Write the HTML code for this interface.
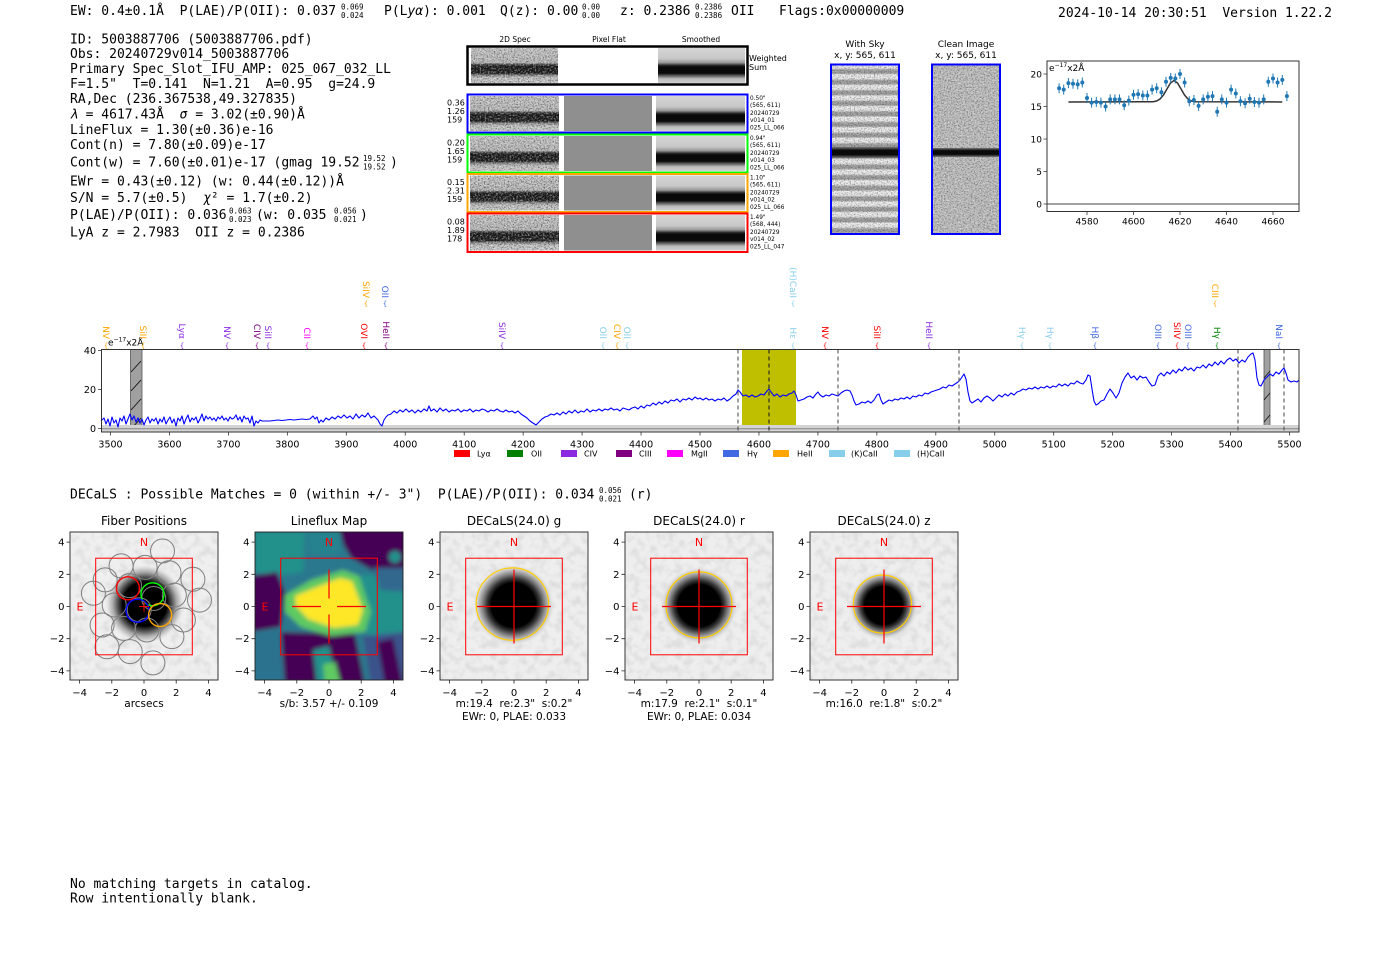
<!DOCTYPE html>
<html><head><meta charset="utf-8"><style>
html,body{margin:0;padding:0;background:#fff;}
svg{display:block;}
.m{font-family:"DejaVu Sans Mono","Liberation Mono",monospace;font-size:13px;fill:#000;}
.ms{font-family:"DejaVu Sans Mono","Liberation Mono",monospace;font-size:7.5px;fill:#000;}
.s{font-family:"DejaVu Sans","Liberation Sans",sans-serif;fill:#000;}
.r{font-family:"DejaVu Sans","Liberation Sans",sans-serif;fill:#ff0000;font-size:11px;}
</style></head><body>
<svg width="1400" height="953" viewBox="0 0 1400 953" xmlns="http://www.w3.org/2000/svg">
<defs>
<filter id="nzd" x="0" y="0" width="1" height="1">
<feTurbulence type="fractalNoise" baseFrequency="0.7" numOctaves="2" seed="5"/>
<feColorMatrix type="matrix" values="0 0 0 0 0  0 0 0 0 0  0 0 0 0 0  -2.4 0 0 0 1.35"/>
</filter>
<filter id="nzl" x="0" y="0" width="1" height="1">
<feTurbulence type="fractalNoise" baseFrequency="0.6" numOctaves="2" seed="11"/>
<feColorMatrix type="matrix" values="0 0 0 0 1  0 0 0 0 1  0 0 0 0 1  2.4 0 0 0 -1.05"/>
</filter>
<filter id="nzs" x="0" y="0" width="1" height="1">
<feTurbulence type="fractalNoise" baseFrequency="0.12" numOctaves="2" seed="7"/>
<feColorMatrix type="matrix" values="0 0 0 0 0  0 0 0 0 0  0 0 0 0 0  -1.2 0 0 0 0.7"/>
</filter>
<filter id="blur" x="-0.1" y="-0.1" width="1.2" height="1.2"><feGaussianBlur stdDeviation="2.2"/></filter>
<linearGradient id="g2d" x1="0" y1="0" x2="0" y2="1">
<stop offset="0" stop-color="#c6c6c6"/><stop offset="0.42" stop-color="#b6b6b6"/><stop offset="0.47" stop-color="#474747"/><stop offset="0.52" stop-color="#171717"/><stop offset="0.72" stop-color="#1c1c1c"/><stop offset="0.78" stop-color="#8a8a8a"/><stop offset="0.85" stop-color="#c2c2c2"/><stop offset="1" stop-color="#c9c9c9"/>
</linearGradient>
<linearGradient id="gsm" x1="0" y1="0" x2="0" y2="1">
<stop offset="0" stop-color="#d6d6d6"/><stop offset="0.3" stop-color="#c8c8c8"/><stop offset="0.42" stop-color="#979797"/><stop offset="0.5" stop-color="#222"/><stop offset="0.55" stop-color="#080808"/><stop offset="0.72" stop-color="#0a0a0a"/><stop offset="0.8" stop-color="#666"/><stop offset="0.88" stop-color="#bcbcbc"/><stop offset="1" stop-color="#cfcfcf"/>
</linearGradient>
<linearGradient id="gband" x1="0" y1="0" x2="0" y2="1">
<stop offset="0" stop-color="#777"/><stop offset="0.3" stop-color="#0a0a0a"/><stop offset="0.7" stop-color="#0a0a0a"/><stop offset="1" stop-color="#777"/>
</linearGradient>
<linearGradient id="gstr" x1="0" y1="0" x2="0" y2="1">
<stop offset="0" stop-color="#f2f2f2"/><stop offset="0.4" stop-color="#e6e6e6"/><stop offset="0.55" stop-color="#a8a8a8"/><stop offset="0.85" stop-color="#a0a0a0"/><stop offset="1" stop-color="#e0e0e0"/>
</linearGradient>
<pattern id="sky" x="0" y="64" width="68" height="10.6" patternUnits="userSpaceOnUse">
<rect width="68" height="10.6" fill="url(#gstr)"/>
</pattern>
<radialGradient id="bf"><stop offset="0" stop-color="#000"/><stop offset="0.55" stop-color="#000"/><stop offset="0.68" stop-color="#555"/><stop offset="0.8" stop-color="#aaa"/><stop offset="0.92" stop-color="#e0e0e0"/><stop offset="1" stop-color="#eeeeee" stop-opacity="0"/></radialGradient>
<radialGradient id="bd"><stop offset="0" stop-color="#000"/><stop offset="0.54" stop-color="#000"/><stop offset="0.64" stop-color="#333"/><stop offset="0.76" stop-color="#888"/><stop offset="0.88" stop-color="#cfcfcf"/><stop offset="1" stop-color="#ececec" stop-opacity="0"/></radialGradient>
<clipPath id="pb"><rect x="0" y="0" width="148" height="148"/></clipPath>
</defs>

<!-- ===== HEADER ===== -->
<text class="m" x="70" y="15">EW: 0.4±0.1Å&#160; P(LAE)/P(OII): 0.037</text>
<text class="ms" x="341" y="9.5">0.069</text><text class="ms" x="341" y="18">0.024</text>
<text class="m" x="384" y="15">P(L<tspan font-style="italic">yα</tspan>): 0.001</text>
<text class="m" x="500" y="15">Q(z): 0.00</text>
<text class="ms" x="582" y="9.5">0.00</text><text class="ms" x="582" y="18">0.00</text>
<text class="m" x="620" y="15">z: 0.2386</text>
<text class="ms" x="695" y="9.5" font-size="6.5">0.2386</text><text class="ms" x="695" y="18" font-size="6.5">0.2386</text>
<text class="m" x="731" y="15">OII</text>
<text class="m" x="779" y="15">Flags:0x00000009</text>
<text class="m" x="1058" y="17">2024-10-14 20:30:51&#160; Version 1.22.2</text>

<!-- ===== INFO BLOCK ===== -->
<text class="m" x="70" y="43.5">ID: 5003887706 (5003887706.pdf)</text>
<text class="m" x="70" y="58">Obs: 20240729v014_5003887706</text>
<text class="m" x="70" y="73">Primary Spec_Slot_IFU_AMP: 025_067_032_LL</text>
<text class="m" x="70" y="88">F=1.5"&#160; T=0.141&#160; N=1.21&#160; A=0.95&#160; g=24.9</text>
<text class="m" x="70" y="103">RA,Dec (236.367538,49.327835)</text>
<text class="m" x="70" y="118.5"><tspan font-style="italic">λ</tspan> = 4617.43Å&#160; <tspan font-style="italic">σ</tspan> = 3.02(±0.90)Å</text>
<text class="m" x="70" y="134">LineFlux = 1.30(±0.36)e-16</text>
<text class="m" x="70" y="149">Cont(n) = 7.80(±0.09)e-17</text>
<text class="m" x="70" y="166.5">Cont(w) = 7.60(±0.01)e-17 (gmag 19.52</text>
<text class="ms" x="363" y="161">19.52</text><text class="ms" x="363" y="169.5">19.52</text>
<text class="m" x="390" y="166.5">)</text>
<text class="m" x="70" y="185.5">EWr = 0.43(±0.12) (w: 0.44(±0.12))Å</text>
<text class="m" x="70" y="202">S/N = 5.7(±0.5)&#160; <tspan font-style="italic">χ</tspan>² = 1.7(±0.2)</text>
<text class="m" x="70" y="219">P(LAE)/P(OII): 0.036</text>
<text class="ms" x="229" y="213.5">0.063</text><text class="ms" x="229" y="222">0.023</text>
<text class="m" x="256" y="219">(w: 0.035</text>
<text class="ms" x="334" y="213.5">0.056</text><text class="ms" x="334" y="222">0.021</text>
<text class="m" x="360" y="219">)</text>
<text class="m" x="70" y="236.5">LyA z = 2.7983&#160; OII z = 0.2386</text>

<!-- ===== 2D SPEC PANELS ===== -->
<g class="s" font-size="7.5" text-anchor="middle">
<text x="515" y="42">2D Spec</text><text x="609" y="42">Pixel Flat</text><text x="701" y="42">Smoothed</text>
</g>
<rect x="471" y="48" width="87" height="35" fill="url(#g2d)"/>
<rect x="471" y="48" width="87" height="35" filter="url(#nzd)" opacity="0.55"/>
<rect x="471" y="48" width="87" height="35" filter="url(#nzl)" opacity="0.55"/>
<rect x="658" y="48" width="87" height="35" fill="url(#gsm)"/>
<rect x="467.5" y="46.5" width="280" height="38" fill="none" stroke="#000" stroke-width="2.5"/>
<text class="s" font-size="8" x="749" y="61">Weighted</text>
<text class="s" font-size="8" x="749" y="70">Sum</text>

<g>
<rect x="470" y="96" width="89" height="35" fill="url(#g2d)"/>
<rect x="470" y="96" width="89" height="35" filter="url(#nzd)" opacity="0.55"/>
<rect x="470" y="96" width="89" height="35" filter="url(#nzl)" opacity="0.55"/>
<rect x="564" y="96" width="88" height="35" fill="#8f8f8f"/>
<rect x="656" y="96" width="89" height="35" fill="url(#gsm)"/>
<rect x="467.5" y="94.5" width="280" height="38" fill="none" stroke="#0000ff" stroke-width="2"/>

<rect x="470" y="136" width="89" height="35" fill="url(#g2d)"/>
<rect x="470" y="136" width="89" height="35" filter="url(#nzd)" opacity="0.55"/>
<rect x="470" y="136" width="89" height="35" filter="url(#nzl)" opacity="0.55"/>
<rect x="564" y="136" width="88" height="35" fill="#8f8f8f"/>
<rect x="656" y="136" width="89" height="35" fill="url(#gsm)"/>
<rect x="467.5" y="134.5" width="280" height="38" fill="none" stroke="#00ff00" stroke-width="2"/>

<rect x="470" y="175.5" width="89" height="35" fill="url(#g2d)"/>
<rect x="470" y="175.5" width="89" height="35" filter="url(#nzd)" opacity="0.6"/>
<rect x="470" y="175.5" width="89" height="35" filter="url(#nzl)" opacity="0.6"/>
<rect x="564" y="175.5" width="88" height="35" fill="#8f8f8f"/>
<rect x="656" y="175.5" width="89" height="35" fill="url(#gsm)"/>
<rect x="467.5" y="174" width="280" height="38" fill="none" stroke="#ffa500" stroke-width="2"/>

<rect x="470" y="215" width="89" height="35.5" fill="url(#g2d)"/>
<rect x="470" y="215" width="89" height="35.5" filter="url(#nzd)" opacity="0.6"/>
<rect x="470" y="215" width="89" height="35.5" filter="url(#nzl)" opacity="0.6"/>
<rect x="564" y="215" width="88" height="35.5" fill="#8f8f8f"/>
<rect x="656" y="215" width="89" height="35.5" fill="url(#gsm)"/>
<rect x="467.5" y="213.5" width="280" height="38.5" fill="none" stroke="#ff0000" stroke-width="2"/>
</g>
<g class="s" font-size="8">
<text x="447" y="105.5">0.36</text><text x="447" y="114">1.26</text><text x="447" y="122.5">159</text>
<text x="447" y="145.5">0.20</text><text x="447" y="154">1.65</text><text x="447" y="162.5">159</text>
<text x="447" y="185">0.15</text><text x="447" y="193.5">2.31</text><text x="447" y="202">159</text>
<text x="447" y="224.5">0.08</text><text x="447" y="233">1.89</text><text x="447" y="241.5">178</text>
</g>
<g class="s" font-size="5.8" fill="#222">
<text x="750" y="100">0.50"</text><text x="750" y="107">(565, 611)</text><text x="750" y="115">20240729</text><text x="750" y="122">v014_01</text><text x="750" y="129.5">025_LL_066</text>
<text x="750" y="140">0.94"</text><text x="750" y="147">(565, 611)</text><text x="750" y="155">20240729</text><text x="750" y="162">v014_03</text><text x="750" y="169.5">025_LL_066</text>
<text x="750" y="179.5">1.10"</text><text x="750" y="186.5">(565, 611)</text><text x="750" y="194.5">20240729</text><text x="750" y="201.5">v014_02</text><text x="750" y="209">025_LL_066</text>
<text x="750" y="219">1.49"</text><text x="750" y="226">(568, 444)</text><text x="750" y="234">20240729</text><text x="750" y="241">v014_02</text><text x="750" y="248.5">025_LL_047</text>
</g>

<!-- ===== WITH SKY / CLEAN ===== -->
<g class="s" font-size="9" text-anchor="middle">
<text x="865" y="47">With Sky</text><text x="865" y="58">x, y: 565, 611</text>
<text x="966" y="47">Clean Image</text><text x="966" y="58">x, y: 565, 611</text>
</g>
<rect x="832" y="65" width="66" height="168" fill="url(#sky)"/>
<rect x="832" y="65" width="66" height="168" filter="url(#nzd)" opacity="0.4"/>
<rect x="832" y="147" width="66" height="11" fill="url(#gband)"/>
<rect x="831" y="64.5" width="68" height="169.5" fill="none" stroke="#0000ff" stroke-width="2"/>
<rect x="933" y="65" width="66" height="168" fill="#bdbdbd"/>
<rect x="933" y="65" width="66" height="168" filter="url(#nzd)" opacity="0.45"/>
<rect x="933" y="65" width="66" height="168" filter="url(#nzl)" opacity="0.45"/>
<rect x="933" y="148" width="66" height="9" fill="url(#gband)"/>
<rect x="932" y="64.5" width="68" height="169.5" fill="none" stroke="#0000ff" stroke-width="2"/>

<!-- ===== ZOOM LINE PLOT (top right) ===== -->
<g>
<line x1="1047" y1="204" x2="1299" y2="204" stroke="#444" stroke-width="1"/>
<polyline fill="none" stroke="#333" stroke-width="1.5" points="1068.4,101.95 1153,101.7 1156.5,101 1160,99.05 1163.5,95 1167,88.9 1170.5,83 1174,80.5 1177.5,83 1181,88.9 1184.5,95 1188,99.05 1191.5,101 1195,101.7 1282.3,101.95"/>
<g stroke="#1f77b4" stroke-width="1" fill="#1f77b4">
<path d="M1059.1,83.3V93.3M1063.7,84.6V94.6M1068.4,78.1V88.1M1073,78.75V88.75M1077.7,79.4V89.4M1082.3,77.45V87.45M1087,93.05V103.05M1091.6,97.6V107.6M1096.3,96.95V106.95M1100.9,97.6V107.6M1105.6,101.5V111.5M1110.2,94.35V104.35M1114.9,94.35V104.35M1119.5,94.35V104.35M1124.2,100.2V110.2M1128.8,95.65V105.65M1133.5,89.8V99.8M1138.1,89.15V99.15M1142.8,90.45V100.45M1147.4,90.45V100.45M1152.1,84.6V94.6M1156.7,83.3V93.3M1161.4,87.2V97.2M1166,76.8V86.8M1170.7,72.9V82.9M1175.3,73.55V83.55M1180,69V79M1184.6,77.45V87.45M1189.3,96.3V106.3M1193.9,95V105M1198.6,100.85V110.85M1203.2,94.35V104.35M1207.9,91.75V101.75M1212.5,91.1V101.1M1217.2,106.7V116.7M1221.8,94.35V104.35M1226.5,97.6V107.6M1231.1,84.6V94.6M1235.8,88.5V98.5M1240.4,96.3V106.3M1245.1,98.25V108.25M1249.7,93.7V103.7M1254.4,96.95V106.95M1259,97.6V107.6M1263.7,94.35V104.35M1268.3,76.8V86.8M1273,73.55V83.55M1277.6,77.45V87.45M1282.3,74.85V84.85M1286.9,91.1V101.1"/>
<g stroke="none">
<circle cx="1059.1" cy="88.3" r="2"/><circle cx="1063.7" cy="89.6" r="2"/><circle cx="1068.4" cy="83.1" r="2"/><circle cx="1073" cy="83.75" r="2"/><circle cx="1077.7" cy="84.4" r="2"/><circle cx="1082.3" cy="82.45" r="2"/><circle cx="1087" cy="98.05" r="2"/><circle cx="1091.6" cy="102.6" r="2"/><circle cx="1096.3" cy="101.95" r="2"/><circle cx="1100.9" cy="102.6" r="2"/><circle cx="1105.6" cy="106.5" r="2"/><circle cx="1110.2" cy="99.35" r="2"/><circle cx="1114.9" cy="99.35" r="2"/><circle cx="1119.5" cy="99.35" r="2"/><circle cx="1124.2" cy="105.2" r="2"/><circle cx="1128.8" cy="100.65" r="2"/><circle cx="1133.5" cy="94.8" r="2"/><circle cx="1138.1" cy="94.15" r="2"/><circle cx="1142.8" cy="95.45" r="2"/><circle cx="1147.4" cy="95.45" r="2"/><circle cx="1152.1" cy="89.6" r="2"/><circle cx="1156.7" cy="88.3" r="2"/><circle cx="1161.4" cy="92.2" r="2"/><circle cx="1166" cy="81.8" r="2"/><circle cx="1170.7" cy="77.9" r="2"/><circle cx="1175.3" cy="78.55" r="2"/><circle cx="1180" cy="74" r="2"/><circle cx="1184.6" cy="82.45" r="2"/><circle cx="1189.3" cy="101.3" r="2"/><circle cx="1193.9" cy="100" r="2"/><circle cx="1198.6" cy="105.85" r="2"/><circle cx="1203.2" cy="99.35" r="2"/><circle cx="1207.9" cy="96.75" r="2"/><circle cx="1212.5" cy="96.1" r="2"/><circle cx="1217.2" cy="111.7" r="2"/><circle cx="1221.8" cy="99.35" r="2"/><circle cx="1226.5" cy="102.6" r="2"/><circle cx="1231.1" cy="89.6" r="2"/><circle cx="1235.8" cy="93.5" r="2"/><circle cx="1240.4" cy="101.3" r="2"/><circle cx="1245.1" cy="103.25" r="2"/><circle cx="1249.7" cy="98.7" r="2"/><circle cx="1254.4" cy="101.95" r="2"/><circle cx="1259" cy="102.6" r="2"/><circle cx="1263.7" cy="99.35" r="2"/><circle cx="1268.3" cy="81.8" r="2"/><circle cx="1273" cy="78.55" r="2"/><circle cx="1277.6" cy="82.45" r="2"/><circle cx="1282.3" cy="79.85" r="2"/><circle cx="1286.9" cy="96.1" r="2"/>
</g></g>
<rect x="1047" y="61" width="252" height="150.5" fill="none" stroke="#333" stroke-width="1"/>
<path d="M1043.5,204H1047M1043.5,171.5H1047M1043.5,139H1047M1043.5,106.5H1047M1043.5,74H1047M1087,211.5V215M1133.5,211.5V215M1180,211.5V215M1226.5,211.5V215M1273,211.5V215" stroke="#333" stroke-width="0.8"/>
<g class="s" font-size="9" text-anchor="end">
<text x="1042" y="207.5">0</text><text x="1042" y="175">5</text><text x="1042" y="142.5">10</text><text x="1042" y="110">15</text><text x="1042" y="77.5">20</text>
</g>
<g class="s" font-size="9" text-anchor="middle">
<text x="1087" y="224.5">4580</text><text x="1133.5" y="224.5">4600</text><text x="1180" y="224.5">4620</text><text x="1226.5" y="224.5">4640</text><text x="1273" y="224.5">4660</text>
</g>
<text class="s" font-size="9" x="1049" y="71">e<tspan font-size="6" dy="-4">−17</tspan><tspan dy="4">x2Å</tspan></text>
</g>

<!-- ===== MAIN SPECTRUM ===== -->
<rect x="742" y="349.5" width="54" height="82.5" fill="#bfbf00"/>
<rect x="130.5" y="349.5" width="11.5" height="82.5" fill="#a0a0a0" stroke="#555" stroke-width="0.8"/>
<path d="M131,372L141,361M131,391L141,380M131,410L141,399M131,429L141,418" stroke="#111" stroke-width="0.9"/>
<rect x="1264" y="349.5" width="6" height="82.5" fill="#a0a0a0" stroke="#555" stroke-width="0.8"/>
<path d="M1264,378L1270,371M1264,400L1270,393M1264,422L1270,415" stroke="#111" stroke-width="0.8"/>
<rect x="101.5" y="425" width="1197.5" height="6.5" fill="#d4d4d4"/>
<line x1="101.5" y1="428.7" x2="1299" y2="428.7" stroke="#999" stroke-width="1.4"/>
<polyline fill="none" stroke="#0000ff" stroke-width="1.1" stroke-linejoin="round" points="101,421 104,418 106,424 108,419 110,426 112,417 114,423 116,420 118,427 120,418 122,421 124,416 126,424 128,419 130,414 132,420 134,416 136,422 138,418 140,423 142,419 144,425 146,420 148,417 150,423 152,419 154,421 156,418 158,424 160,419 162,422 164,417 166,424 168,420 170,417 172,423 174,419 176,426 178,418 180,421 182,416 184,424 186,419 188,415 190,422 192,418 194,420 196,417 198,423 200,419 202,414 204,421 206,416 208,419 210,417 212,420 214,418 216,421 218,417 220,419 222,416 224,420 226,418 228,421 230,417 232,419 234,418 236,415 238,420 240,417 242,422 244,416 246,419 248,418 250,423 252,416 254,426 256,421 258,423 260,420 262,421 266,421 270,421 274,420.5 278,420 282,420.5 286,420 290,419.5 294,420 298,419.5 302,419 306,419.5 310,419 313,416 315,419 317,417 319,423 321,420 323,422 326,418 329,420 332,417 335,419 338,416 341,418 344,415 347,418 350,416 353,419 356,414 359,418 362,415 365,417 368,413 371,418 374,416 376,418 378,420 380,424 382,426 384,420 386,417 388,415 391,414 394,411 397,413 400,410 403,412 406,409 409,412 412,410 415,413 418,410 421,412 424,409 427,411 429,406 431,411 434,409 437,412 440,408 443,411 446,409 449,412 452,410 455,411 458,409 461,412 464,410 467,411 470,409 473,412 476,410 479,411 482,409 485,410 488,412 491,410 494,411 497,409 500,411 503,412 506,410 509,412 512,411 515,413 518,411 521,414 524,416 527,418 530,421 533,423 536,425 539,422 542,419 545,417 548,416 551,414 554,415 557,413 560,415 563,412 566,414 569,411 572,413 575,410 578,413 581,411 584,412 587,409 590,412 593,410 596,411 599,409 602,411 605,409 608,410 611,408 614,410 617,409 620,411 623,408 626,409 629,410 632,408 635,407 638,409 641,406 644,408 647,405 650,406 653,403 656,405 659,402 662,404 665,401 668,403 671,400 674,401 677,399 680,402 683,399 686,400 689,398 692,400 695,397 698,399 700,398 703,400 706,398 709,400 712,399 715,401 718,399 721,400 724,398 727,401 730,399 733,396 736,394 738,390 740,392 743,396 746,395 749,397 752,395 755,397 758,396 761,394 764,395 767,391 769,389 771,392 774,396 777,394 780,397 783,395 786,396 789,394 792,393 794,391 796,395 798,401 801,400 804,399 807,397 810,396 813,398 816,394 818,392 820,395 823,397 826,395 829,396 832,394 835,395 838,396 841,393 844,391 847,390 850,391 852,395 854,401 856,405 859,404 862,402 865,403 868,401 871,403 874,400 877,395 879,394 881,400 883,404 886,402 889,400 892,401 895,399 898,400 901,398 904,399 907,397 910,399 913,396 916,397 919,395 922,396 925,393 928,394 931,392 934,391 937,390 940,389 943,387 946,388 949,385 952,386 955,384 958,382 960,380 962,377 964,374 966,379 968,392 970,401 972,403 975,401 978,399 981,402 984,398 987,396 990,398 993,401 996,398 999,395 1002,397 1005,394 1008,396 1011,393 1014,395 1017,392 1020,391 1023,389 1026,390 1029,388 1032,389 1035,387 1038,389 1041,387 1044,388 1047,386 1050,388 1053,386 1056,387 1059,384 1062,386 1065,384 1068,386 1071,383 1074,384 1077,381 1080,383 1083,384 1086,380 1088,375 1090,376 1092,389 1094,401 1096,405 1098,404 1101,401 1104,400 1107,394 1110,389 1113,393 1116,398 1119,393 1122,383 1125,377 1128,373 1131,378 1134,376 1137,380 1140,376 1143,378 1146,377 1149,382 1152,386 1155,385 1158,376 1161,373 1164,376 1167,372 1170,374 1173,370 1176,373 1179,369 1182,371 1185,367 1188,370 1191,368 1194,371 1197,367 1200,368 1203,365 1206,368 1209,364 1212,366 1215,362 1218,365 1221,361 1224,364 1227,360 1230,358 1233,361 1236,359 1239,363 1242,360 1245,362 1248,357 1251,354 1253,353 1255,360 1257,378 1259,385 1261,386 1264,380 1267,377 1270,374 1273,376 1276,372 1279,374 1282,370 1284,368 1286,373 1288,380 1291,382 1294,381 1297,382 1299,380"/>
<g stroke="#555" stroke-width="1.1" stroke-dasharray="4,3">
<line x1="738" y1="349.5" x2="738" y2="432"/>
<line x1="769" y1="349.5" x2="769" y2="432" stroke="#222"/>
<line x1="838" y1="349.5" x2="838" y2="432"/>
<line x1="959" y1="349.5" x2="959" y2="432"/>
<line x1="1238" y1="349.5" x2="1238" y2="432"/>
<line x1="1284" y1="349.5" x2="1284" y2="432"/>
</g>
<rect x="101.5" y="349.5" width="1197.5" height="82.5" fill="none" stroke="#333" stroke-width="1"/>
<path d="M98,350.5H101.5M98,389.5H101.5M98,428.5H101.5" stroke="#333" stroke-width="0.8"/>
<path d="M110.5,432V435.5M169.45,432V435.5M228.4,432V435.5M287.35,432V435.5M346.3,432V435.5M405.25,432V435.5M464.2,432V435.5M523.15,432V435.5M582.1,432V435.5M641.05,432V435.5M700,432V435.5M758.95,432V435.5M817.9,432V435.5M876.85,432V435.5M935.8,432V435.5M994.75,432V435.5M1053.7,432V435.5M1112.65,432V435.5M1171.6,432V435.5M1230.55,432V435.5M1289.5,432V435.5" stroke="#333" stroke-width="0.8"/>
<g class="s" font-size="9.5" text-anchor="end">
<text x="96" y="354">40</text><text x="96" y="393">20</text><text x="96" y="432">0</text>
</g>
<g class="s" font-size="9.5" text-anchor="middle">
<text x="110.5" y="447.5">3500</text><text x="169.45" y="447.5">3600</text><text x="228.4" y="447.5">3700</text><text x="287.35" y="447.5">3800</text><text x="346.3" y="447.5">3900</text><text x="405.25" y="447.5">4000</text><text x="464.2" y="447.5">4100</text><text x="523.15" y="447.5">4200</text><text x="582.1" y="447.5">4300</text><text x="641.05" y="447.5">4400</text><text x="700" y="447.5">4500</text><text x="758.95" y="447.5">4600</text><text x="817.9" y="447.5">4700</text><text x="876.85" y="447.5">4800</text><text x="935.8" y="447.5">4900</text><text x="994.75" y="447.5">5000</text><text x="1053.7" y="447.5">5100</text><text x="1112.65" y="447.5">5200</text><text x="1171.6" y="447.5">5300</text><text x="1230.55" y="447.5">5400</text><text x="1289.5" y="447.5">5500</text>
</g>
<text class="s" font-size="9" x="108" y="345.5">e<tspan font-size="6" dy="-4">−17</tspan><tspan dy="4">x2Å</tspan></text>

<g>
<rect x="454" y="450" width="16" height="7" fill="#ff0000"/>
<rect x="507" y="450" width="16" height="7" fill="#008000"/>
<rect x="561" y="450" width="16" height="7" fill="#8a2be2"/>
<rect x="616" y="450" width="16" height="7" fill="#800080"/>
<rect x="667" y="450" width="16" height="7" fill="#ff00ff"/>
<rect x="723" y="450" width="16" height="7" fill="#4169e1"/>
<rect x="773" y="450" width="16" height="7" fill="#ffa500"/>
<rect x="829" y="450" width="16" height="7" fill="#87ceeb"/>
<rect x="894" y="450" width="16" height="7" fill="#87ceeb"/>
</g>
<g class="s" font-size="8">
<text x="477" y="456.5">Lyα</text><text x="531" y="456.5">OII</text><text x="584" y="456.5">CIV</text><text x="639" y="456.5">CIII</text><text x="691" y="456.5">MgII</text><text x="747" y="456.5">Hγ</text><text x="797" y="456.5">HeII</text><text x="851" y="456.5">(K)CaII</text><text x="917" y="456.5">(H)CaII</text>
</g>

<g class="s" font-size="9" text-anchor="end">
<text transform="translate(103,339) rotate(90)" fill="#ffa500">NV</text>
<text transform="translate(140,339) rotate(90)" fill="#ffa500">SiII</text>
<text transform="translate(179,339) rotate(90)" fill="#8a2be2">Lyα</text>
<text transform="translate(224,339) rotate(90)" fill="#8a2be2">NV</text>
<text transform="translate(254,339) rotate(90)" fill="#800080">CIV</text>
<text transform="translate(265,339) rotate(90)" fill="#8a2be2">SiII</text>
<text transform="translate(304,339) rotate(90)" fill="#ff00ff">CII</text>
<text transform="translate(361,339) rotate(90)" fill="#ff0000">OVI</text>
<text transform="translate(383,339) rotate(90)" fill="#800080">HeII</text>
<text transform="translate(499,339) rotate(90)" fill="#8a2be2">SiIV</text>
<text transform="translate(600,339) rotate(90)" fill="#87ceeb">OII</text>
<text transform="translate(614,339) rotate(90)" fill="#ffa500">CIV</text>
<text transform="translate(624,339) rotate(90)" fill="#87ceeb">OII</text>
<text transform="translate(363,298) rotate(90)" fill="#ffa500">SiIV</text>
<text transform="translate(382,298) rotate(90)" fill="#4169e1">OII</text>
<text transform="translate(790,298) rotate(90)" fill="#87ceeb">(H)CaII</text>
<text transform="translate(790,339) rotate(90)" fill="#87ceeb">Hε</text>
<text transform="translate(822,339) rotate(90)" fill="#ff0000">NV</text>
<text transform="translate(874,339) rotate(90)" fill="#ff0000">SiII</text>
<text transform="translate(926,339) rotate(90)" fill="#8a2be2">HeII</text>
<text transform="translate(1019,339) rotate(90)" fill="#87ceeb">Hγ</text>
<text transform="translate(1047,339) rotate(90)" fill="#87ceeb">Hγ</text>
<text transform="translate(1092,339) rotate(90)" fill="#4169e1">Hβ</text>
<text transform="translate(1155,339) rotate(90)" fill="#4169e1">OIII</text>
<text transform="translate(1174,339) rotate(90)" fill="#ff0000">SiIV</text>
<text transform="translate(1185,339) rotate(90)" fill="#4169e1">OIII</text>
<text transform="translate(1214,339) rotate(90)" fill="#008000">Hγ</text>
<text transform="translate(1212,298) rotate(90)" fill="#ffa500">CIII</text>
<text transform="translate(1276,339) rotate(90)" fill="#4169e1">NaI</text>
</g>
<g class="s" font-size="7" text-anchor="middle">
<text x="106" y="348" fill="#ffa500">{</text><text x="143" y="348" fill="#ffa500">{</text><text x="182" y="348" fill="#8a2be2">{</text><text x="227" y="348" fill="#8a2be2">{</text><text x="257" y="348" fill="#800080">{</text><text x="268" y="348" fill="#8a2be2">{</text><text x="307" y="348" fill="#ff00ff">{</text><text x="364" y="348" fill="#ff0000">{</text><text x="386" y="348" fill="#800080">{</text><text x="502" y="348" fill="#8a2be2">{</text><text x="603" y="348" fill="#87ceeb">{</text><text x="617" y="348" fill="#ffa500">{</text><text x="627" y="348" fill="#87ceeb">{</text>
<text x="366" y="306" fill="#ffa500">{</text><text x="385" y="306" fill="#4169e1">{</text><text x="793" y="306" fill="#87ceeb">{</text><text x="1215" y="306" fill="#ffa500">{</text>
<text x="793" y="348" fill="#87ceeb">{</text><text x="825" y="348" fill="#ff0000">{</text><text x="877" y="348" fill="#ff0000">{</text><text x="929" y="348" fill="#8a2be2">{</text><text x="1022" y="348" fill="#87ceeb">{</text><text x="1050" y="348" fill="#87ceeb">{</text><text x="1095" y="348" fill="#4169e1">{</text><text x="1158" y="348" fill="#4169e1">{</text><text x="1177" y="348" fill="#ff0000">{</text><text x="1188" y="348" fill="#4169e1">{</text><text x="1217" y="348" fill="#008000">{</text><text x="1279" y="348" fill="#4169e1">{</text>
</g>

<!-- ===== DECaLS LINE ===== -->
<text class="m" x="70" y="498.5">DECaLS : Possible Matches = 0 (within +/- 3")&#160; P(LAE)/P(OII): 0.034</text>
<text class="ms" x="599" y="493">0.056</text><text class="ms" x="599" y="501.5">0.021</text>
<text class="m" x="629" y="498.5">(r)</text>

<!-- ===== PANEL 1: Fiber Positions ===== -->
<g transform="translate(70,532)">
<g clip-path="url(#pb)">
<rect width="148" height="148" fill="#efefef"/>
<rect width="148" height="148" filter="url(#nzs)" opacity="0.15"/>
<circle cx="74.8" cy="72.1" r="40" fill="url(#bf)"/>
<g fill="none" stroke="#808080" stroke-width="1">
<circle cx="92.5" cy="19" r="12"/><circle cx="51.1" cy="33.9" r="12"/><circle cx="75.1" cy="35.4" r="12"/><circle cx="122.9" cy="47.3" r="12"/><circle cx="35.2" cy="47.9" r="12"/><circle cx="129.5" cy="68.1" r="12"/><circle cx="104.3" cy="63.1" r="12"/><circle cx="44.2" cy="73" r="12"/><circle cx="32.1" cy="93" r="12"/><circle cx="113.4" cy="88" r="12"/><circle cx="37" cy="114.8" r="12"/><circle cx="60.2" cy="119.6" r="12"/><circle cx="82.9" cy="130.9" r="12"/><circle cx="53.6" cy="96.4" r="12"/><circle cx="76.9" cy="98" r="12"/><circle cx="101.9" cy="104.6" r="12"/><circle cx="23.4" cy="61.3" r="12"/><circle cx="99" cy="40.7" r="12"/><circle cx="59.5" cy="53.6" r="12"/><circle cx="83.7" cy="66.5" r="12"/><circle cx="69.2" cy="77.7" r="12"/>
</g>
<g fill="none" stroke-width="1.4">
<circle cx="57.9" cy="56.3" r="11.5" stroke="#ff0000"/>
<circle cx="82.5" cy="62.3" r="11.5" stroke="#00ff00"/>
<circle cx="67.6" cy="78.7" r="11.5" stroke="#0000ff"/>
<circle cx="90.1" cy="83" r="11.5" stroke="#ffa500"/>
</g>
<rect x="25.7" y="26.2" width="96.6" height="96.6" fill="none" stroke="#ff0000" stroke-width="1"/>
<path d="M69,74.5H79M74,69.5V79.5" stroke="#ff0000" stroke-width="1"/>
<text class="r" x="74" y="14" text-anchor="middle">N</text>
<text class="r" x="10" y="78.5" text-anchor="middle">E</text>
</g>
<rect x="0" y="0" width="148" height="148" fill="none" stroke="#222" stroke-width="0.9"/>
</g>

<!-- ===== PANEL 2: Lineflux Map ===== -->
<g transform="translate(255,532)">
<g clip-path="url(#pb)">
<g filter="url(#blur)">
<rect x="-5" y="-5" width="158" height="158" fill="#2a788e"/>
<polygon points="0,0 50,0 48,40 20,44 0,40" fill="#21918c"/>
<polygon points="52,0 88,0 84,22 55,22" fill="#26828e"/>
<polygon points="84,-5 153,-5 153,36 120,40 96,26 88,12" fill="#440154"/>
<circle cx="140" cy="25" r="6" fill="#21918c"/>
<polygon points="-5,44 22,40 30,60 26,95 -5,100" fill="#440154"/>
<polygon points="100,44 153,40 153,100 112,104" fill="#21918c"/>
<polygon points="118,36 153,36 153,60 125,58" fill="#31688e"/>
<polygon points="26,100 100,102 110,153 28,153" fill="#440154"/>
<polygon points="-5,100 26,100 30,153 -5,153" fill="#2c728e"/>
<polygon points="58,118 74,114 82,153 62,153" fill="#21918c"/>
<polygon points="68,132 80,130 86,153 70,153" fill="#5ec962"/>
<polygon points="108,104 153,100 153,153 116,153" fill="#3b528b"/>
<polygon points="122,110 138,106 148,153 130,153" fill="#440154"/>
<polygon points="30,63 56,48 88,38 104,44 116,80 110,100 76,104 46,95 30,80" fill="#5ec962"/>
<polygon points="40,64 62,55 85,46 97,49 108,78 103,93 79,96 53,87 41,74" fill="#fde725"/>
</g>
<rect x="25.7" y="26.2" width="96.6" height="96.6" fill="none" stroke="#ff0000" stroke-width="1"/>
<path d="M37,74.5H66M82,74.5H111M74,37.5V66.5M74,82.5V111.5" stroke="#ff0000" stroke-width="1.2"/>
<text class="r" x="74" y="14" text-anchor="middle">N</text>
<text class="r" x="10" y="78.5" text-anchor="middle">E</text>
</g>
<rect x="0" y="0" width="148" height="148" fill="none" stroke="#222" stroke-width="0.9"/>
</g>

<!-- ===== PANEL 3-5: DECaLS ===== -->
<g transform="translate(440,532)">
<g clip-path="url(#pb)">
<rect width="148" height="148" fill="#eeeeee"/>
<rect width="148" height="148" filter="url(#nzs)" opacity="0.15"/>
<circle cx="73.5" cy="73" r="41" fill="url(#bd)"/>
<circle cx="72.4" cy="72.1" r="36.2" fill="none" stroke="#ffcc00" stroke-width="1.2"/>
<rect x="25.7" y="26.2" width="96.6" height="96.6" fill="none" stroke="#ff0000" stroke-width="1"/>
<path d="M37,74.5H111M74,37.5V111.5" stroke="#ff0000" stroke-width="1.2"/>
<text class="r" x="74" y="14" text-anchor="middle">N</text>
<text class="r" x="10" y="78.5" text-anchor="middle">E</text>
</g>
<rect x="0" y="0" width="148" height="148" fill="none" stroke="#222" stroke-width="0.9"/>
</g>
<g transform="translate(625,532)">
<g clip-path="url(#pb)">
<rect width="148" height="148" fill="#eeeeee"/>
<rect width="148" height="148" filter="url(#nzs)" opacity="0.15"/>
<circle cx="74" cy="73.5" r="39" fill="url(#bd)"/>
<circle cx="74" cy="72.9" r="33" fill="none" stroke="#ffcc00" stroke-width="1.2"/>
<rect x="25.7" y="26.2" width="96.6" height="96.6" fill="none" stroke="#ff0000" stroke-width="1"/>
<path d="M37,74.5H111M74,37.5V111.5" stroke="#ff0000" stroke-width="1.2"/>
<text class="r" x="74" y="14" text-anchor="middle">N</text>
<text class="r" x="10" y="78.5" text-anchor="middle">E</text>
</g>
<rect x="0" y="0" width="148" height="148" fill="none" stroke="#222" stroke-width="0.9"/>
</g>
<g transform="translate(810,532)">
<g clip-path="url(#pb)">
<rect width="148" height="148" fill="#eeeeee"/>
<rect width="148" height="148" filter="url(#nzs)" opacity="0.15"/>
<circle cx="73.5" cy="73.5" r="35" fill="url(#bd)"/>
<circle cx="72.4" cy="72.1" r="29" fill="none" stroke="#ffcc00" stroke-width="1.2"/>
<rect x="25.7" y="26.2" width="96.6" height="96.6" fill="none" stroke="#ff0000" stroke-width="1"/>
<path d="M37,74.5H111M74,37.5V111.5" stroke="#ff0000" stroke-width="1.2"/>
<text class="r" x="74" y="14" text-anchor="middle">N</text>
<text class="r" x="10" y="78.5" text-anchor="middle">E</text>
</g>
<rect x="0" y="0" width="148" height="148" fill="none" stroke="#222" stroke-width="0.9"/>
</g>

<g stroke="#222" stroke-width="0.8">
<path d="M66.5,542.1H70M66.5,574.3H70M66.5,606.5H70M66.5,638.7H70M66.5,670.9H70M79.6,680V683.5M111.8,680V683.5M144,680V683.5M176.2,680V683.5M208.4,680V683.5"/>
<path d="M251.5,542.1H255M251.5,574.3H255M251.5,606.5H255M251.5,638.7H255M251.5,670.9H255M264.6,680V683.5M296.8,680V683.5M329,680V683.5M361.2,680V683.5M393.4,680V683.5"/>
<path d="M436.5,542.1H440M436.5,574.3H440M436.5,606.5H440M436.5,638.7H440M436.5,670.9H440M449.6,680V683.5M481.8,680V683.5M514,680V683.5M546.2,680V683.5M578.4,680V683.5"/>
<path d="M621.5,542.1H625M621.5,574.3H625M621.5,606.5H625M621.5,638.7H625M621.5,670.9H625M634.6,680V683.5M666.8,680V683.5M699,680V683.5M731.2,680V683.5M763.4,680V683.5"/>
<path d="M806.5,542.1H810M806.5,574.3H810M806.5,606.5H810M806.5,638.7H810M806.5,670.9H810M819.6,680V683.5M851.8,680V683.5M884,680V683.5M916.2,680V683.5M948.4,680V683.5"/>
</g>
<g class="s" font-size="10" text-anchor="end">
<text x="64.5" y="545.6">4</text><text x="64.5" y="577.8">2</text><text x="64.5" y="610">0</text><text x="64.5" y="642.2">−2</text><text x="64.5" y="674.4">−4</text>
<text x="249.5" y="545.6">4</text><text x="249.5" y="577.8">2</text><text x="249.5" y="610">0</text><text x="249.5" y="642.2">−2</text><text x="249.5" y="674.4">−4</text>
<text x="434.5" y="545.6">4</text><text x="434.5" y="577.8">2</text><text x="434.5" y="610">0</text><text x="434.5" y="642.2">−2</text><text x="434.5" y="674.4">−4</text>
<text x="619.5" y="545.6">4</text><text x="619.5" y="577.8">2</text><text x="619.5" y="610">0</text><text x="619.5" y="642.2">−2</text><text x="619.5" y="674.4">−4</text>
<text x="804.5" y="545.6">4</text><text x="804.5" y="577.8">2</text><text x="804.5" y="610">0</text><text x="804.5" y="642.2">−2</text><text x="804.5" y="674.4">−4</text>
</g>
<g class="s" font-size="10" text-anchor="middle">
<text x="79.6" y="696">−4</text><text x="111.8" y="696">−2</text><text x="144" y="696">0</text><text x="176.2" y="696">2</text><text x="208.4" y="696">4</text>
<text x="264.6" y="696">−4</text><text x="296.8" y="696">−2</text><text x="329" y="696">0</text><text x="361.2" y="696">2</text><text x="393.4" y="696">4</text>
<text x="449.6" y="696">−4</text><text x="481.8" y="696">−2</text><text x="514" y="696">0</text><text x="546.2" y="696">2</text><text x="578.4" y="696">4</text>
<text x="634.6" y="696">−4</text><text x="666.8" y="696">−2</text><text x="699" y="696">0</text><text x="731.2" y="696">2</text><text x="763.4" y="696">4</text>
<text x="819.6" y="696">−4</text><text x="851.8" y="696">−2</text><text x="884" y="696">0</text><text x="916.2" y="696">2</text><text x="948.4" y="696">4</text>
</g>
<g class="s" font-size="12" text-anchor="middle">
<text x="144" y="525">Fiber Positions</text>
<text x="329" y="525">Lineflux Map</text>
<text x="514" y="525">DECaLS(24.0) g</text>
<text x="699" y="525">DECaLS(24.0) r</text>
<text x="884" y="525">DECaLS(24.0) z</text>
</g>
<g class="s" font-size="10.5" text-anchor="middle">
<text x="144" y="707">arcsecs</text>
<text x="329" y="707">s/b: 3.57 +/- 0.109</text>
<text x="514" y="707">m:19.4&#160; re:2.3"&#160; s:0.2"</text>
<text x="514" y="720">EWr: 0, PLAE: 0.033</text>
<text x="699" y="707">m:17.9&#160; re:2.1"&#160; s:0.1"</text>
<text x="699" y="720">EWr: 0, PLAE: 0.034</text>
<text x="884" y="707">m:16.0&#160; re:1.8"&#160; s:0.2"</text>
</g>

<text class="m" x="70" y="888">No matching targets in catalog.</text>
<text class="m" x="70" y="902.5">Row intentionally blank.</text>
</svg>
</body></html>
